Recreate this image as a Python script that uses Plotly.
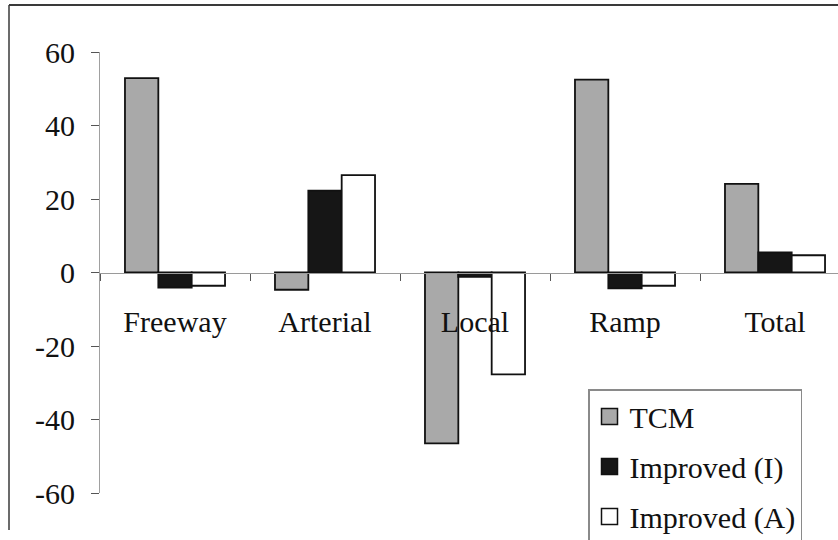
import plotly.graph_objects as go

categories = ["Freeway", "Arterial", "Local", "Ramp", "Total"]
tcm = [52.9, -4.7, -46.5, 52.5, 24.1]
improved_i = [-4.1, 22.3, -1.2, -4.3, 5.5]
improved_a = [-3.6, 26.5, -27.7, -3.6, 4.7]
y_ticks = [-60, -40, -20, 0, 20, 40, 60]
y_tick_text = ["-60", "-40", "-20", "0", "20", "40", "60"]

FONT = "'Liberation Serif', 'Times New Roman', 'DejaVu Serif', serif"
W, H = 838, 540
L, R, T, B = 100, 0, 52, 47
pw, ph = W - L - R, H - T - B

fig = go.Figure()
series = [
    ("TCM", tcm, "#a9a9a9"),
    ("Improved (I)", improved_i, "#161616"),
    ("Improved (A)", improved_a, "#ffffff"),
]
for i, (name, vals, col) in enumerate(series):
    fig.add_trace(go.Bar(
        x=categories, y=vals, name=name, legendgroup=f"g{i}", showlegend=False,
        marker=dict(color=col, line=dict(color="#111111", width=1.8)),
    ))
    # legend key (larger square swatch, as in the original figure)
    fig.add_trace(go.Scatter(
        x=[None], y=[None], mode="markers", name=name, legendgroup=f"g{i}",
        marker=dict(symbol="square", size=16, color=col,
                    line=dict(color="#111111", width=1.5)),
    ))

fig.update_layout(
    width=W, height=H,
    margin=dict(l=L, r=R, t=T, b=B, autoexpand=False),
    paper_bgcolor="white", plot_bgcolor="white",
    font=dict(family=FONT, size=30, color="#111111"),
    barmode="group", bargap=0.333, bargroupgap=0,
    showlegend=True,
    legend=dict(
        x=(588 - L) / pw, y=(H - B - 389) / ph, xanchor="left", yanchor="top",
        bordercolor="#8a8a8a", borderwidth=1.5, bgcolor="white",
        font=dict(family=FONT, size=30, color="#111111"),
        traceorder="grouped", tracegroupgap=8, itemsizing="trace",
    ),
    xaxis=dict(
        range=[-0.5, 4.42], anchor="free", position=0.5,
        showline=True, linecolor="#9a9a9a", linewidth=1.2,
        ticks="outside", tickson="boundaries", ticklen=7, tickcolor="#555555",
        tickwidth=1.2, showgrid=False, zeroline=False,
        ticklabelstandoff=22,
        tickfont=dict(family=FONT, size=30, color="#111111"),
    ),
    yaxis=dict(
        range=[-60, 60], tickvals=y_ticks, ticktext=y_tick_text,
        showline=True, linecolor="#a0a0a0", linewidth=1.2,
        ticks="outside", ticklen=8, tickcolor="#555555", tickwidth=1.2,
        showgrid=False, zeroline=False, ticklabelstandoff=10,
        tickfont=dict(family=FONT, size=30, color="#111111"),
    ),
    shapes=[
        dict(type="line", xref="paper", yref="paper",
             x0=(9 - L) / pw, x1=(W + 5 - L) / pw,
             y0=(H - B - 5) / ph, y1=(H - B - 5) / ph,
             line=dict(color="#3a3a3a", width=2)),
        dict(type="line", xref="paper", yref="paper",
             x0=(9 - L) / pw, x1=(9 - L) / pw,
             y0=(H - B - 5) / ph, y1=(H - B + 10 - H) / ph,
             line=dict(color="#3a3a3a", width=1.5)),
    ],
)

fig.write_html("out.html")
